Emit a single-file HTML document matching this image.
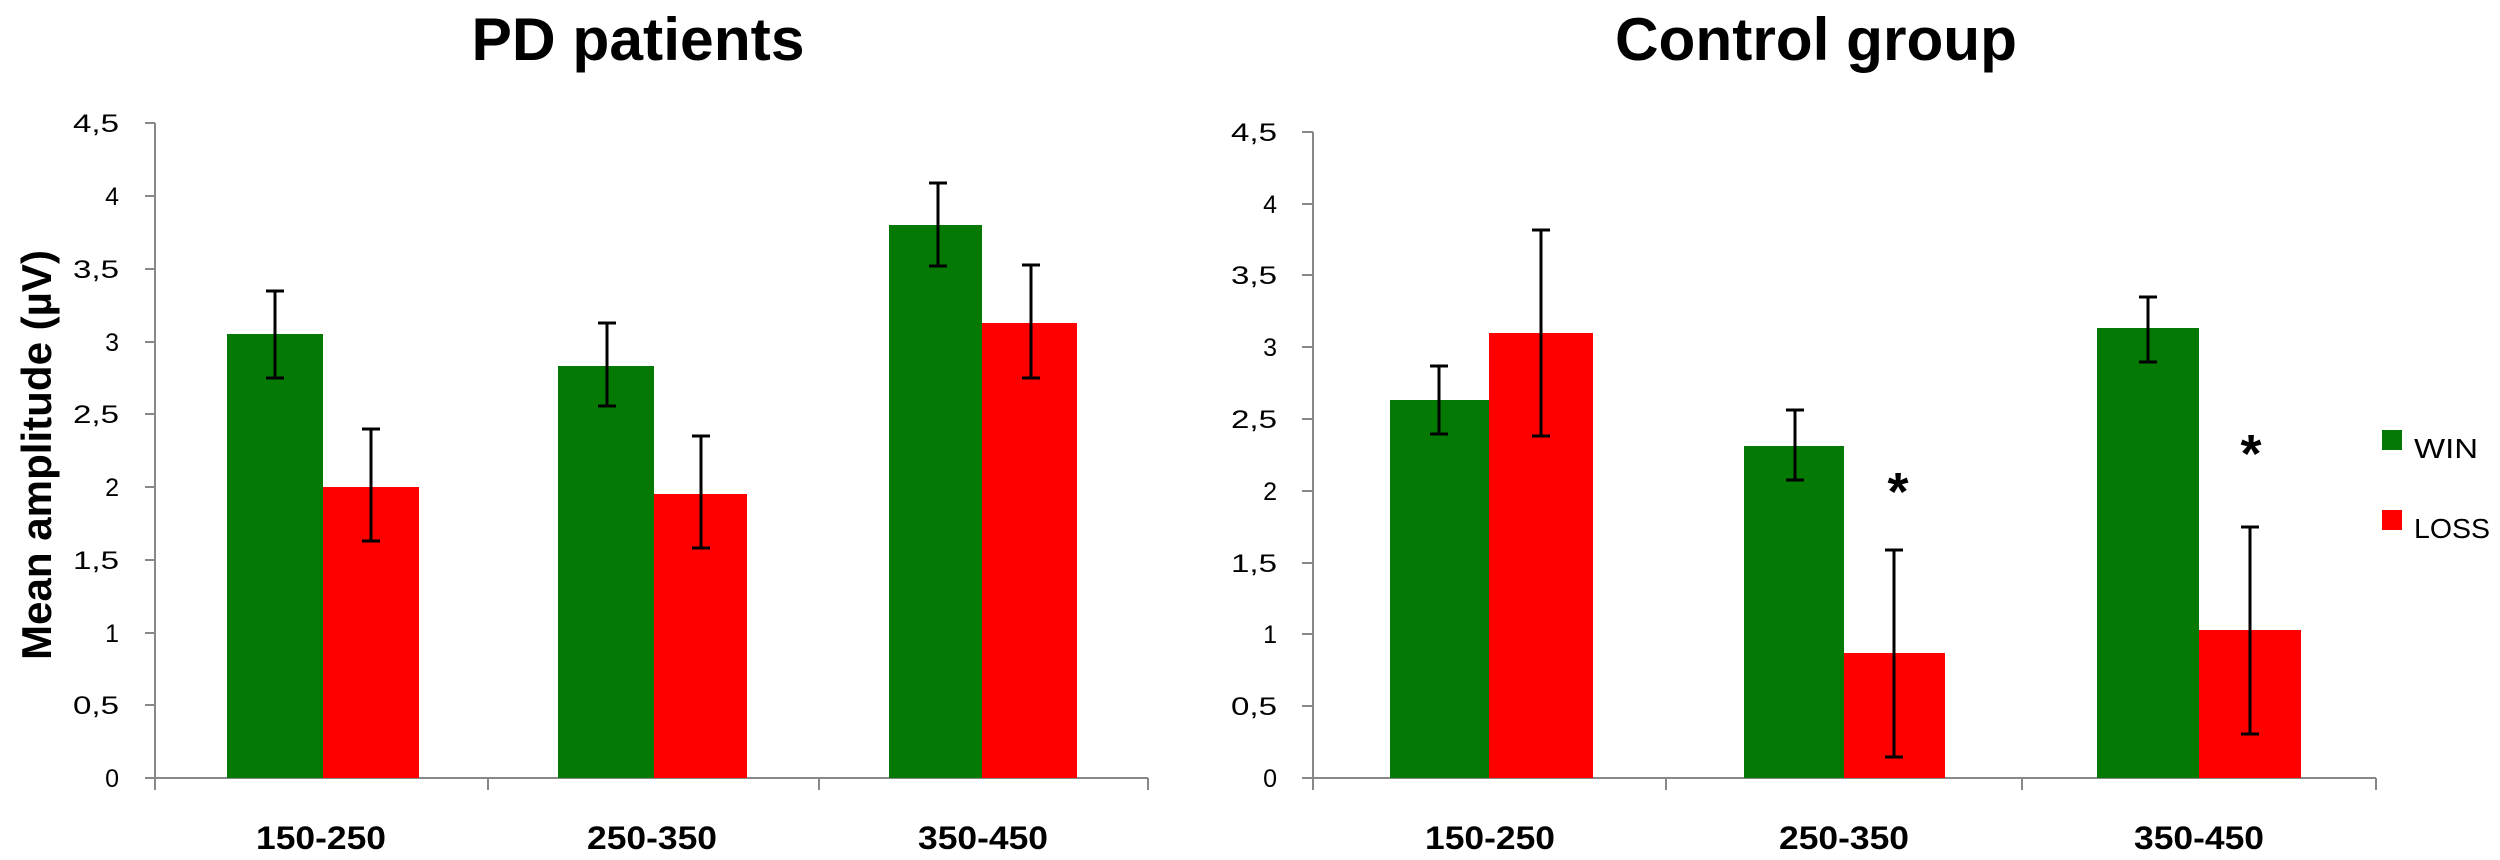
<!DOCTYPE html>
<html><head><meta charset="utf-8"><style>
html,body{margin:0;padding:0;background:#fff;}
svg{display:block;}
text{font-family:"Liberation Sans",sans-serif;}
</style></head><body>
<svg width="2500" height="860" viewBox="0 0 2500 860" xmlns="http://www.w3.org/2000/svg">
<rect width="2500" height="860" fill="#fff"/>
<!-- Titles -->
<text x="638" y="60" font-size="60" font-weight="bold" text-anchor="middle" textLength="333" lengthAdjust="spacingAndGlyphs" fill="#000">PD patients</text>
<text x="1816" y="60" font-size="60" font-weight="bold" text-anchor="middle" textLength="402" lengthAdjust="spacingAndGlyphs" fill="#000">Control group</text>
<!-- Y axis title -->
<text transform="translate(51,455) rotate(-90)" font-size="42" font-weight="bold" text-anchor="middle" textLength="410" lengthAdjust="spacingAndGlyphs" fill="#000">Mean amplitude (µV)</text>

<!-- LEFT CHART -->
<g stroke="#888" stroke-width="2" fill="none">
<line x1="155" y1="123" x2="155" y2="778"/>
<line x1="155" y1="778" x2="1148" y2="778"/>
<line x1="145" y1="778" x2="155" y2="778"/><line x1="145" y1="705" x2="155" y2="705"/>
<line x1="145" y1="633" x2="155" y2="633"/><line x1="145" y1="560" x2="155" y2="560"/>
<line x1="145" y1="487" x2="155" y2="487"/><line x1="145" y1="414" x2="155" y2="414"/>
<line x1="145" y1="342" x2="155" y2="342"/><line x1="145" y1="269" x2="155" y2="269"/>
<line x1="145" y1="196" x2="155" y2="196"/><line x1="145" y1="123" x2="155" y2="123"/>
<line x1="155" y1="778" x2="155" y2="790"/><line x1="488" y1="778" x2="488" y2="790"/>
<line x1="819" y1="778" x2="819" y2="790"/><line x1="1148" y1="778" x2="1148" y2="790"/>
</g>
<g font-size="25" text-anchor="end" fill="#000">
<text x="119" y="787">0</text><text x="119" y="714" textLength="46" lengthAdjust="spacingAndGlyphs">0,5</text><text x="119" y="642">1</text>
<text x="119" y="569" textLength="46" lengthAdjust="spacingAndGlyphs">1,5</text><text x="119" y="496">2</text><text x="119" y="423" textLength="46" lengthAdjust="spacingAndGlyphs">2,5</text>
<text x="119" y="351">3</text><text x="119" y="278" textLength="46" lengthAdjust="spacingAndGlyphs">3,5</text><text x="119" y="205">4</text>
<text x="119" y="132" textLength="46" lengthAdjust="spacingAndGlyphs">4,5</text>
</g>
<g fill="#047a04">
<rect x="227" y="334" width="96" height="444"/>
<rect x="558" y="366" width="96" height="412"/>
<rect x="889" y="225" width="93" height="553"/>
</g>
<g fill="#fe0000">
<rect x="323" y="487" width="96" height="291"/>
<rect x="654" y="494" width="93" height="284"/>
<rect x="982" y="323" width="95" height="455"/>
</g>
<g stroke="#000" stroke-width="3">
<line x1="275" y1="291" x2="275" y2="378"/><line x1="266" y1="291" x2="284" y2="291"/><line x1="266" y1="378" x2="284" y2="378"/>
<line x1="371" y1="429" x2="371" y2="541"/><line x1="362" y1="429" x2="380" y2="429"/><line x1="362" y1="541" x2="380" y2="541"/>
<line x1="607" y1="323" x2="607" y2="406"/><line x1="598" y1="323" x2="616" y2="323"/><line x1="598" y1="406" x2="616" y2="406"/>
<line x1="701" y1="436" x2="701" y2="548"/><line x1="692" y1="436" x2="710" y2="436"/><line x1="692" y1="548" x2="710" y2="548"/>
<line x1="938" y1="183" x2="938" y2="266"/><line x1="929" y1="183" x2="947" y2="183"/><line x1="929" y1="266" x2="947" y2="266"/>
<line x1="1031" y1="265" x2="1031" y2="378"/><line x1="1022" y1="265" x2="1040" y2="265"/><line x1="1022" y1="378" x2="1040" y2="378"/>
</g>
<g font-size="32" font-weight="bold" text-anchor="middle" fill="#000">
<text x="321" y="849" textLength="130" lengthAdjust="spacingAndGlyphs">150-250</text><text x="652" y="849" textLength="130" lengthAdjust="spacingAndGlyphs">250-350</text><text x="983" y="849" textLength="130" lengthAdjust="spacingAndGlyphs">350-450</text>
</g>

<!-- RIGHT CHART -->
<g stroke="#888" stroke-width="2" fill="none">
<line x1="1313" y1="132" x2="1313" y2="778"/>
<line x1="1313" y1="778" x2="2376" y2="778"/>
<line x1="1302" y1="778" x2="1313" y2="778"/><line x1="1302" y1="706" x2="1313" y2="706"/>
<line x1="1302" y1="634" x2="1313" y2="634"/><line x1="1302" y1="563" x2="1313" y2="563"/>
<line x1="1302" y1="491" x2="1313" y2="491"/><line x1="1302" y1="419" x2="1313" y2="419"/>
<line x1="1302" y1="347" x2="1313" y2="347"/><line x1="1302" y1="275" x2="1313" y2="275"/>
<line x1="1302" y1="204" x2="1313" y2="204"/><line x1="1302" y1="132" x2="1313" y2="132"/>
<line x1="1313" y1="778" x2="1313" y2="790"/><line x1="1666" y1="778" x2="1666" y2="790"/>
<line x1="2022" y1="778" x2="2022" y2="790"/><line x1="2376" y1="778" x2="2376" y2="790"/>
</g>
<g font-size="25" text-anchor="end" fill="#000">
<text x="1277" y="787">0</text><text x="1277" y="715" textLength="46" lengthAdjust="spacingAndGlyphs">0,5</text><text x="1277" y="643">1</text>
<text x="1277" y="572" textLength="46" lengthAdjust="spacingAndGlyphs">1,5</text><text x="1277" y="500">2</text><text x="1277" y="428" textLength="46" lengthAdjust="spacingAndGlyphs">2,5</text>
<text x="1277" y="356">3</text><text x="1277" y="284" textLength="46" lengthAdjust="spacingAndGlyphs">3,5</text><text x="1277" y="213">4</text>
<text x="1277" y="141" textLength="46" lengthAdjust="spacingAndGlyphs">4,5</text>
</g>
<g fill="#047a04">
<rect x="1390" y="400" width="99" height="378"/>
<rect x="1744" y="446" width="100" height="332"/>
<rect x="2097" y="328" width="102" height="450"/>
</g>
<g fill="#fe0000">
<rect x="1489" y="333" width="104" height="445"/>
<rect x="1844" y="653" width="101" height="125"/>
<rect x="2199" y="630" width="102" height="148"/>
</g>
<g stroke="#000" stroke-width="3">
<line x1="1439" y1="366" x2="1439" y2="434"/><line x1="1430" y1="366" x2="1448" y2="366"/><line x1="1430" y1="434" x2="1448" y2="434"/>
<line x1="1541" y1="230" x2="1541" y2="436"/><line x1="1532" y1="230" x2="1550" y2="230"/><line x1="1532" y1="436" x2="1550" y2="436"/>
<line x1="1795" y1="410" x2="1795" y2="480"/><line x1="1786" y1="410" x2="1804" y2="410"/><line x1="1786" y1="480" x2="1804" y2="480"/>
<line x1="1894" y1="550" x2="1894" y2="757"/><line x1="1885" y1="550" x2="1903" y2="550"/><line x1="1885" y1="757" x2="1903" y2="757"/>
<line x1="2148" y1="297" x2="2148" y2="362"/><line x1="2139" y1="297" x2="2157" y2="297"/><line x1="2139" y1="362" x2="2157" y2="362"/>
<line x1="2250" y1="527" x2="2250" y2="734"/><line x1="2241" y1="527" x2="2259" y2="527"/><line x1="2241" y1="734" x2="2259" y2="734"/>
</g>
<g font-size="54" font-weight="bold" text-anchor="middle" fill="#000">
<text x="1898" y="510">*</text><text x="2251" y="472">*</text>
</g>
<g font-size="32" font-weight="bold" text-anchor="middle" fill="#000">
<text x="1490" y="849" textLength="130" lengthAdjust="spacingAndGlyphs">150-250</text><text x="1844" y="849" textLength="130" lengthAdjust="spacingAndGlyphs">250-350</text><text x="2199" y="849" textLength="130" lengthAdjust="spacingAndGlyphs">350-450</text>
</g>
<!-- Legend -->
<rect x="2382" y="430" width="20" height="20" fill="#047a04"/>
<rect x="2382" y="510" width="20" height="20" fill="#fe0000"/>
<g font-size="28" fill="#000">
<text x="2414" y="458" textLength="64" lengthAdjust="spacingAndGlyphs">WIN</text><text x="2414" y="538" textLength="76" lengthAdjust="spacingAndGlyphs">LOSS</text>
</g>
</svg>
</body></html>
